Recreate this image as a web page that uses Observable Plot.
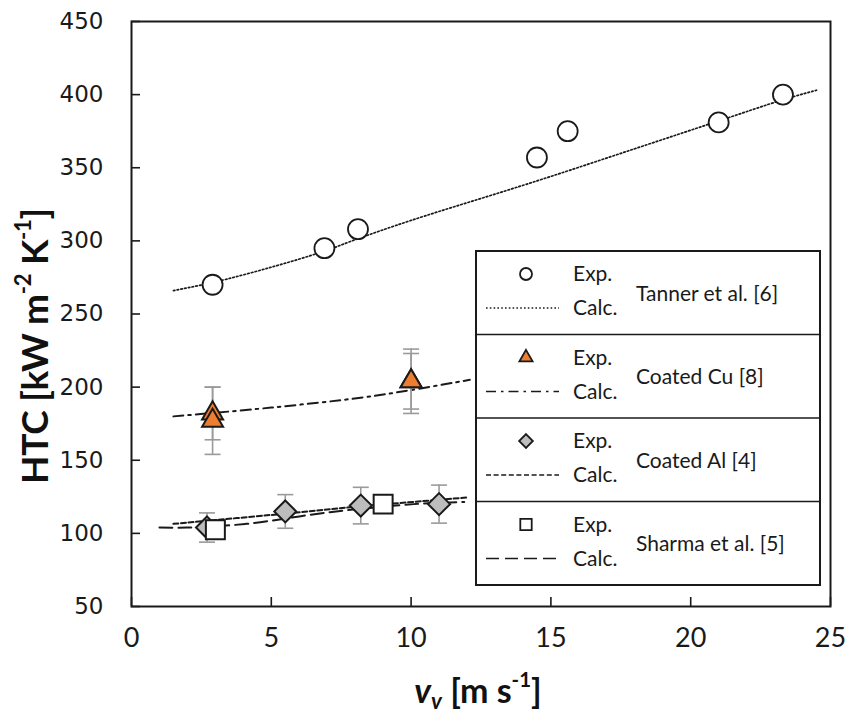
<!DOCTYPE html>
<html>
<head>
<meta charset="utf-8">
<script src="https://cdn.jsdelivr.net/npm/d3@7"></script>
<script src="https://cdn.jsdelivr.net/npm/@observablehq/plot@0.6"></script>
<style>
  body { margin: 0; background: #fff; }
  #wrap { position: relative; width: 846px; height: 717px; background: #fff; }
  .ytitle { position: absolute; left: 33px; top: 346px; transform: translate(-50%, -50%) rotate(-90deg);
            font: bold 37px Lato, sans-serif; white-space: nowrap; color: #111; letter-spacing: -0.3px; }
  .xtitle { position: absolute; left: 478px; top: 689px; transform: translate(-50%, -50%);
            font: bold 34px Lato, sans-serif; white-space: nowrap; color: #111; }
  .ytitle sup, .xtitle sup { font-size: 0.6em; vertical-align: 0.75em; line-height: 0; }
  .xtitle sub { font-size: 0.65em; vertical-align: -0.3em; line-height: 0; }
  .xtitle i { font-style: italic; }
  #legend { position: absolute; left: 475px; top: 250px; }
</style>
</head>
<body>
<div id="wrap">
  <div id="chart"></div>
  <div class="ytitle">HTC [kW m<sup>-2</sup> K<sup>-1</sup>]</div>
  <div class="xtitle"><i>v<sub>v</sub></i> [m s<sup>-1</sup>]</div>
  <svg id="legend" width="346" height="336"></svg>
</div>
<script>
// ---- Data ----
const xTicks = [0, 5, 10, 15, 20, 25];
const yTicks = [50, 100, 150, 200, 250, 300, 350, 400, 450];

const seriesNames = ["Tanner et al. [6]", "Coated Cu [8]", "Coated Al [4]", "Sharma et al. [5]"];

// Tanner et al. [6]
const tannerExpX = [2.9, 6.9, 8.1, 14.5, 15.6, 21.0, 23.3];
const tannerExpY = [270, 295, 308, 357, 375, 381, 400];
const tannerCalcX = [1.5, 2.9, 5.0, 6.9, 8.1, 10.0, 14.5, 18.0, 21.0, 23.3, 24.5];
const tannerCalcY = [266, 271.5, 282, 293, 301.5, 314, 341, 363, 382, 396.5, 403];

// Coated Cu [8]
const cuExpX = [2.9, 2.9, 10.0, 10.0];
const cuExpY = [182, 177, 204, 204];
const cuErr = [18, 23, 22, 19];
const cuCalcX = [1.5, 5.0, 8.3, 10.0, 12.1];
const cuCalcY = [180, 186, 193, 198, 205];

// Coated Al [4]
const alExpX = [2.7, 5.5, 8.2, 11.0];
const alExpY = [104, 115, 119, 120];
const alErr = [10, 11.5, 12.5, 13];
const alCalcX = [1.5, 5.5, 8.2, 12.0];
const alCalcY = [106.5, 113.5, 118.5, 124.5];

// Sharma et al. [5]
const sharmaExpX = [3.0, 9.0];
const sharmaExpY = [102.5, 120];
const sharmaCalcX = [1.0, 2.0, 4.1, 7.1, 10.1, 11.9];
const sharmaCalcY = [104, 104, 106.5, 114.5, 120, 121.5];

// ---- Helpers ----
const pts = (xs, ys) => xs.map((x, i) => ({x, y: ys[i]}));
const errs = (xs, ys, es) => xs.map((x, i) => ({x, y: ys[i], lo: ys[i] - es[i], hi: ys[i] + es[i]}));

const ink = "#1a1a1a";
const errColor = "#9a9a9a";
const orange = "#ED7D31";
const grayFill = "#BDBDBD";

const styles = {
  tanner: {dash: "1.6,2.2", width: 1.7},
  cu: {dash: "10,5,2.5,5", width: 2},
  al: {dash: "5,2.6", width: 2},
  sharma: {dash: "13,6", width: 2}
};

const capSymbol = {
  draw(ctx, size) { const r = Math.sqrt(size / Math.PI); ctx.moveTo(-r, 0); ctx.lineTo(r, 0); }
};

const W = 846, H = 717, mL = 131, mR = 16, mT = 21, mB = 111, tickLen = 9;

const cuE = errs(cuExpX, cuExpY, cuErr);
const alE = errs(alExpX, alExpY, alErr);
const allErr = cuE.concat(alE);

const lineMark = (xs, ys, st) => Plot.line(pts(xs, ys), {
  x: "x", y: "y", stroke: ink, strokeWidth: st.width, strokeDasharray: st.dash, curve: "catmull-rom"
});

const chart = Plot.plot({
  width: W, height: H,
  marginLeft: mL, marginRight: mR, marginTop: mT, marginBottom: mB,
  x: {domain: [0, 25]},
  y: {domain: [50, 450]},
  style: {background: "white", color: ink, fontFamily: "Lato, sans-serif"},
  marks: [
    Plot.axisY({ticks: yTicks, tickSize: 0, tickPadding: 28, fontSize: 23, fontFamily: "DejaVu Sans", label: null, tickFormat: d => String(d)}),
    Plot.axisX({ticks: xTicks, tickSize: 0, tickPadding: 21, fontSize: 27, fontFamily: "Lato", label: null, tickFormat: d => String(d)}),
    Plot.ruleX(xTicks, {x: d => d, insetTop: (H - mT - mB) - tickLen, stroke: ink, strokeWidth: 1.6}),
    Plot.ruleY(yTicks, {y: d => d, insetRight: (W - mL - mR) - tickLen, stroke: ink, strokeWidth: 1.6}),

    lineMark(tannerCalcX, tannerCalcY, styles.tanner),
    lineMark(cuCalcX, cuCalcY, styles.cu),
    lineMark(alCalcX, alCalcY, styles.al),
    lineMark(sharmaCalcX, sharmaCalcY, styles.sharma),

    Plot.ruleX(allErr, {x: "x", y1: "lo", y2: "hi", stroke: errColor, strokeWidth: 1.6}),
    Plot.dot(allErr, {x: "x", y: "lo", r: 8, symbol: capSymbol, fill: "none", stroke: errColor, strokeWidth: 1.6}),
    Plot.dot(allErr, {x: "x", y: "hi", r: 8, symbol: capSymbol, fill: "none", stroke: errColor, strokeWidth: 1.6}),

    Plot.dot(pts(tannerExpX, tannerExpY), {x: "x", y: "y", r: 10, symbol: "circle", fill: "white", stroke: ink, strokeWidth: 1.8}),
    Plot.dot(pts(cuExpX, cuExpY), {x: "x", y: "y", r: 7.8, symbol: "triangle", fill: orange, stroke: ink, strokeWidth: 2}),
    Plot.dot(pts(alExpX, alExpY), {x: "x", y: "y", r: 9.9, symbol: "diamond2", fill: grayFill, stroke: ink, strokeWidth: 2}),
    Plot.dot(pts(sharmaExpX, sharmaExpY), {x: "x", y: "y", r: 10.7, symbol: "square", fill: "white", stroke: ink, strokeWidth: 2}),

    Plot.frame({stroke: ink, strokeWidth: 2})
  ]
});
document.getElementById("chart").appendChild(chart);

// ---- Legend (separate SVG overlay) ----
const lg = d3.select("#legend");
const LW = 344, LH = 334, rowH = LH / 4;
lg.append("rect").attr("x", 1).attr("y", 1).attr("width", LW).attr("height", LH)
  .attr("fill", "white").attr("stroke", ink).attr("stroke-width", 2);
const legendItems = [
  {name: seriesNames[0], sym: d3.symbolCircle, size: Math.PI * 36, fill: "white", st: styles.tanner},
  {name: seriesNames[1], sym: d3.symbolTriangle, size: 75, fill: orange, st: styles.cu},
  {name: seriesNames[2], sym: d3.symbolDiamond2, size: 120, fill: grayFill, st: styles.al},
  {name: seriesNames[3], sym: d3.symbolSquare, size: 130, fill: "white", st: styles.sharma}
];
legendItems.forEach((it, i) => {
  const top = 1 + i * rowH;
  if (i > 0) lg.append("line").attr("x1", 1).attr("x2", LW + 1).attr("y1", top).attr("y2", top)
    .attr("stroke", ink).attr("stroke-width", 1.6);
  lg.append("path").attr("d", d3.symbol(it.sym, it.size)())
    .attr("transform", `translate(51,${top + 23})`)
    .attr("fill", it.fill).attr("stroke", ink).attr("stroke-width", 1.8);
  lg.append("line").attr("x1", 11).attr("x2", 84).attr("y1", top + 57).attr("y2", top + 57)
    .attr("stroke", ink).attr("stroke-width", it.st.width * 0.8).attr("stroke-dasharray", it.st.dash);
  lg.append("text").attr("x", 98).attr("y", top + 30).text("Exp.")
    .attr("font-family", "Lato").attr("font-size", 21).attr("fill", ink);
  lg.append("text").attr("x", 98).attr("y", top + 64).text("Calc.")
    .attr("font-family", "Lato").attr("font-size", 21).attr("fill", ink);
  lg.append("text").attr("x", 161).attr("y", top + rowH / 2 + 8).text(it.name)
    .attr("font-family", "Lato").attr("font-size", 21).attr("fill", ink);
});
</script>
</body>
</html>
